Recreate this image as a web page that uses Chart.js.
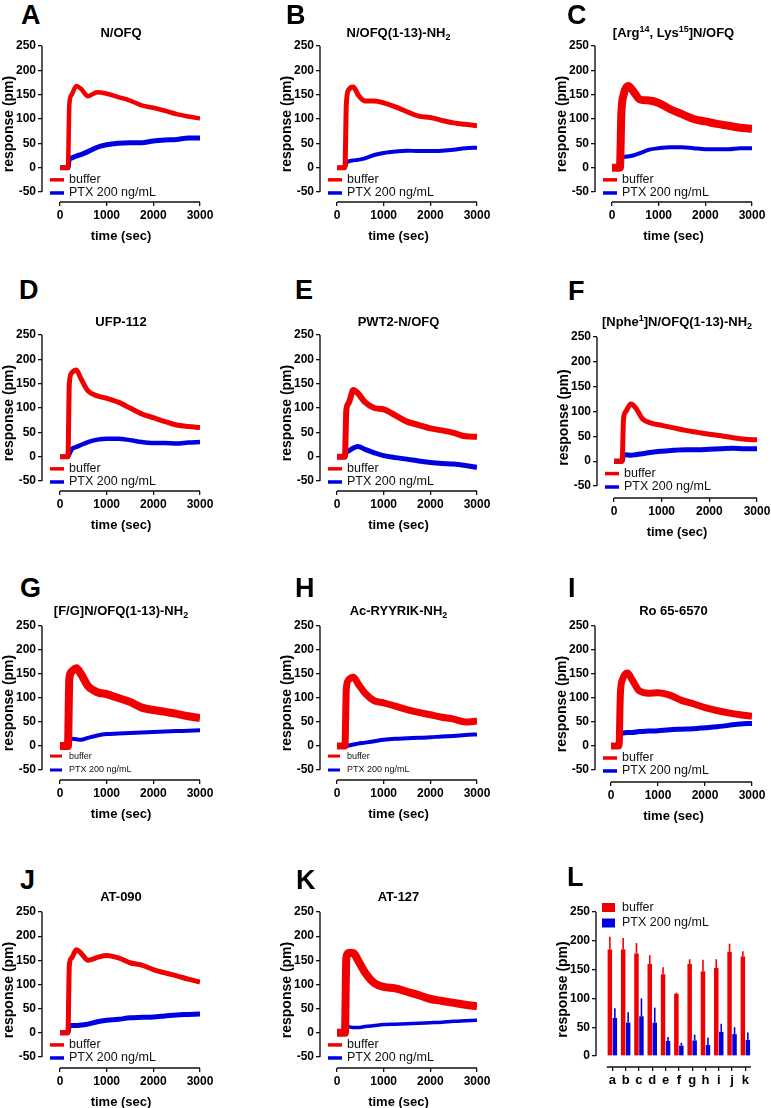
<!DOCTYPE html>
<html>
<head>
<meta charset="utf-8">
<script src="https://cdn.jsdelivr.net/npm/chart.js@4.4.0/dist/chart.umd.min.js"></script>
<style>
body { margin: 0; width: 771px; height: 1108px; overflow: hidden; background: #fff; position: relative;
       font-family: 'Liberation Sans', Arial, sans-serif; color: #000; }
.letter { position: absolute; font-size: 27px; font-weight: bold; line-height: 27px; }
.title { position: absolute; font-size: 13px; font-weight: bold; line-height: 16px; text-align: center; white-space: nowrap; }
.title sub { font-size: 9px; line-height: 0; vertical-align: -3px; }
.title sup { font-size: 9px; line-height: 0; vertical-align: 5px; }
canvas { position: absolute; }
</style>
</head>
<body>
<script>
// ---- data ----
const times = [0, 170, 200, 250, 350, 450, 600, 800, 1000, 1250, 1500, 1750, 2000, 2250, 2500, 2750, 3000];
const seriesLabels = ['buffer', 'PTX 200 ng/mL'];
const xTicks = [0, 1000, 2000, 3000];
const yTicks = [-50, 0, 50, 100, 150, 200, 250];

const bufferA = [0, 0, 130, 150, 168, 162, 147, 155, 152, 145, 138, 128, 123, 117, 110, 105, 101];
const ptxA    = [0, 0, 18, 20, 24, 27, 33, 42, 47, 50, 51, 51, 55, 57, 58, 61, 61];
const bufferB = [0, 0, 130, 160, 166, 150, 137, 137, 133, 125, 115, 106, 103, 97, 92, 89, 86];
const ptxB    = [0, 0, 10, 13, 15, 16, 19, 26, 30, 33, 35, 34, 34, 35, 37, 40, 41];
const bufferC = [0, 0, 110, 150, 168, 158, 140, 138, 133, 120, 110, 100, 95, 90, 86, 82, 80];
const ptxC    = [0, 0, 18, 22, 23, 25, 30, 37, 40, 42, 42, 40, 38, 38, 38, 40, 40];
const bufferD = [0, 0, 150, 172, 178, 160, 135, 125, 120, 112, 100, 88, 80, 72, 65, 62, 60];
const ptxD    = [0, 0, 5, 15, 20, 24, 30, 35, 37, 37, 34, 30, 28, 28, 27, 29, 30];
const bufferE = [0, 0, 95, 110, 137, 130, 112, 100, 97, 85, 72, 65, 58, 54, 49, 42, 41];
const ptxE    = [0, 0, 10, 12, 18, 21, 15, 8, 2, -2, -5, -9, -12, -14, -15, -18, -22];
const bufferF = [0, 0, 85, 100, 115, 108, 85, 76, 72, 67, 62, 58, 54, 51, 47, 44, 43];
const ptxF    = [0, 0, 12, 13, 12, 13, 15, 18, 20, 22, 23, 23, 24, 25, 26, 25, 25];
const bufferG = [0, 0, 140, 155, 162, 150, 125, 112, 108, 100, 92, 80, 75, 71, 67, 62, 58];
const ptxG    = [0, 0, 15, 15, 14, 13, 17, 22, 25, 26, 27, 28, 29, 30, 31, 32, 33];
const bufferH = [0, 0, 120, 138, 143, 130, 110, 94, 90, 83, 76, 70, 65, 60, 56, 50, 52];
const ptxH    = [0, 0, 0, 1, 3, 5, 7, 10, 13, 15, 16, 17, 18, 20, 21, 23, 24];
const bufferI = [0, 0, 110, 140, 152, 138, 115, 110, 111, 106, 95, 88, 80, 74, 69, 65, 62];
const ptxI    = [0, 0, 25, 27, 28, 28, 30, 31, 32, 34, 35, 36, 38, 40, 43, 46, 47];
const bufferJ = [0, 0, 140, 155, 172, 165, 150, 156, 160, 155, 145, 140, 131, 124, 118, 111, 105];
const ptxJ    = [0, 0, 15, 15, 15, 16, 18, 23, 26, 28, 31, 32, 33, 35, 37, 38, 39];
const bufferK = [0, 0, 155, 165, 165, 150, 125, 103, 95, 92, 85, 78, 70, 66, 62, 58, 55];
const ptxK    = [0, 0, 15, 13, 11, 11, 13, 15, 17, 18, 19, 20, 21, 22, 24, 25, 26];

// panel L (peak response, mean + SEM)
const barCategories = ['a', 'b', 'c', 'd', 'e', 'f', 'g', 'h', 'i', 'j', 'k'];
const barBuffer    = [185, 185, 178, 160, 142, 108, 160, 147, 153, 181, 173];
const barBufferErr = [22, 20, 18, 15, 12, 2, 8, 20, 15, 14, 9];
const barPtx       = [66, 58, 69, 58, 26, 18, 27, 19, 42, 38, 28];
const barPtxErr    = [17, 18, 31, 26, 7, 5, 10, 13, 14, 12, 13];
const barTicks = [0, 50, 100, 150, 200, 250];

// ---- styling ----
const RED = 'rgb(240,0,0)';
const BLUE = 'rgb(0,0,225)';
const FONT = "'Liberation Sans', Arial, sans-serif";
Chart.defaults.font.family = FONT;
Chart.defaults.color = '#000';

const PAD_TOP = 10, PAD_RIGHT = 16, Y_AXIS_W = 42, X_AXIS_H = 44;

// positions of each panel's plot box (page pixels)
const panels = [
  { key: 'A', title: 'N/OFQ', buffer: bufferA, ptx: ptxA, left: 42, x0: 60, right: 200, top: 46, ym50: 192, bottom: 202, lx: 21, ly: 5, ty: 32.5, bw: 4.5, pw: 5 },
  { key: 'B', title: 'N/OFQ(1-13)-NH<sub>2</sub>', buffer: bufferB, ptx: ptxB, left: 320, x0: 337, right: 477, top: 46, ym50: 192, bottom: 202, lx: 286, ly: 5, ty: 32.5, bw: 5, pw: 4 },
  { key: 'C', title: '[Arg<sup>14</sup>, Lys<sup>15</sup>]N/OFQ', buffer: bufferC, ptx: ptxC, left: 595, x0: 612, right: 752, top: 46, ym50: 192, bottom: 202, lx: 567, ly: 5, ty: 32.5, bw: 8, pw: 4 },
  { key: 'D', title: 'UFP-112', buffer: bufferD, ptx: ptxD, left: 42, x0: 60, right: 200, top: 335, ym50: 481, bottom: 491, lx: 19, ly: 280, ty: 322, bw: 5, pw: 4.5 },
  { key: 'E', title: 'PWT2-N/OFQ', buffer: bufferE, ptx: ptxE, left: 320, x0: 337, right: 477, top: 335, ym50: 481, bottom: 491, lx: 295, ly: 280, ty: 322, bw: 6, pw: 5 },
  { key: 'F', title: '[Nphe<sup>1</sup>]N/OFQ(1-13)-NH<sub>2</sub>', buffer: bufferF, ptx: ptxF, left: 597, x0: 614, right: 757, top: 337, ym50: 486, bottom: 498, lx: 568, ly: 281, ty: 322, bw: 5, pw: 5 },
  { key: 'G', title: '[F/G]N/OFQ(1-13)-NH<sub>2</sub>', buffer: bufferG, ptx: ptxG, left: 42, x0: 60, right: 200, top: 626, ym50: 770, bottom: 780, lx: 20, ly: 578, ty: 611, bw: 8, pw: 4, small: true },
  { key: 'H', title: 'Ac-RYYRIK-NH<sub>2</sub>', buffer: bufferH, ptx: ptxH, left: 320, x0: 337, right: 477, top: 626, ym50: 770, bottom: 780, lx: 295, ly: 578, ty: 611, bw: 7, pw: 4, small: true },
  { key: 'I', title: 'Ro 65-6570', buffer: bufferI, ptx: ptxI, left: 595, x0: 611, right: 752, top: 626, ym50: 770, bottom: 782, lx: 568, ly: 578, ty: 611, bw: 7, pw: 5 },
  { key: 'J', title: 'AT-090', buffer: bufferJ, ptx: ptxJ, left: 42, x0: 60, right: 200, top: 912, ym50: 1057, bottom: 1068, lx: 20, ly: 870, ty: 897, bw: 5, pw: 5 },
  { key: 'K', title: 'AT-127', buffer: bufferK, ptx: ptxK, left: 320, x0: 337, right: 477, top: 912, ym50: 1057, bottom: 1068, lx: 296, ly: 870, ty: 897, bw: 8, pw: 3.5 }
];

function addDiv(cls, html, left, top, width) {
  const d = document.createElement('div');
  d.className = cls;
  d.innerHTML = html;
  d.style.left = left + 'px';
  d.style.top = top + 'px';
  if (width) d.style.width = width + 'px';
  document.body.appendChild(d);
}

function makeCanvas(left, top, width, height) {
  const c = document.createElement('canvas');
  c.width = width; c.height = height;
  c.style.left = left + 'px'; c.style.top = top + 'px';
  c.style.width = width + 'px'; c.style.height = height + 'px';
  document.body.appendChild(c);
  return c;
}

// Prism-style detached axis lines
const axisLines = {
  id: 'axisLines',
  afterDraw(chart, args, opts) {
    const { ctx, chartArea } = chart;
    const x = chart.scales.x, y = chart.scales.y;
    ctx.save();
    ctx.strokeStyle = '#111';
    ctx.lineWidth = 1.4;
    ctx.beginPath();
    ctx.moveTo(chartArea.left, y.getPixelForValue(opts.yFrom));
    ctx.lineTo(chartArea.left, y.getPixelForValue(opts.yTo));
    ctx.moveTo(x.getPixelForValue(opts.xFrom), chartArea.bottom);
    ctx.lineTo(x.getPixelForValue(opts.xTo), chartArea.bottom);
    ctx.stroke();
    ctx.restore();
  }
};

// legend drawn inside the plot, bottom left
const lineLegend = {
  id: 'lineLegend',
  afterDraw(chart, args, opts) {
    const { ctx, chartArea } = chart;
    const y = chart.scales.y;
    ctx.save();
    ctx.font = opts.size + 'px ' + FONT;
    ctx.textBaseline = 'middle';
    chart.data.datasets.forEach((ds, i) => {
      const yy = y.getPixelForValue(opts.rows[i]);
      ctx.strokeStyle = ds.borderColor;
      ctx.lineWidth = opts.small ? 3 : 3.5;
      ctx.beginPath();
      ctx.moveTo(chartArea.left + 8, yy);
      ctx.lineTo(chartArea.left + (opts.small ? 20 : 22), yy);
      ctx.stroke();
      ctx.fillStyle = '#111';
      ctx.fillText(ds.label, chartArea.left + 27, yy);
    });
    ctx.restore();
  }
};

const gridOpts = { drawOnChartArea: false, drawTicks: true, tickLength: 4, color: '#111', lineWidth: 1.3 };
const tickOpts = { font: { size: 12, weight: 'bold' }, color: '#000', padding: 2, autoSkip: false, maxRotation: 0 };

function linePanel(p) {
  const plotH = p.bottom - p.top;
  const c = makeCanvas(p.left - Y_AXIS_W, p.top - PAD_TOP,
    Y_AXIS_W + (p.right - p.left) + PAD_RIGHT, PAD_TOP + plotH + X_AXIS_H);
  const xMin = -(p.x0 - p.left) / (p.right - p.x0) * 3000;
  const unit = (p.ym50 - p.top) / 300;
  const yMin = -50 - (p.bottom - p.ym50) / unit;

  new Chart(c, {
    type: 'line',
    data: {
      datasets: [
        { label: seriesLabels[0], data: times.map((t, i) => ({ x: t, y: p.buffer[i] })), borderColor: RED, borderWidth: p.bw },
        { label: seriesLabels[1], data: times.map((t, i) => ({ x: t, y: p.ptx[i] })), borderColor: BLUE, borderWidth: p.pw }
      ]
    },
    options: {
      responsive: false,
      animation: false,
      layout: { padding: { top: PAD_TOP, right: PAD_RIGHT, left: 0, bottom: 0 } },
      elements: { point: { radius: 0 }, line: { cubicInterpolationMode: 'monotone', borderJoinStyle: 'round' } },
      plugins: {
        legend: { display: false },
        tooltip: { enabled: false },
        axisLines: { xFrom: 0, xTo: 3000, yFrom: -50, yTo: 250 },
        lineLegend: p.small ? { size: 9, rows: [-21, -50], small: true } : { size: 12.5, rows: [-25, -52] }
      },
      scales: {
        x: {
          type: 'linear', min: xMin, max: 3000,
          afterBuildTicks: s => { s.ticks = xTicks.map(v => ({ value: v })); },
          afterFit: s => { s.height = X_AXIS_H; },
          grid: gridOpts, border: { display: false },
          ticks: { ...tickOpts, callback: v => String(v) },
          title: { display: true, text: 'time (sec)', font: { size: 13, weight: 'bold' }, padding: { top: 0, bottom: 2 } }
        },
        y: {
          type: 'linear', min: yMin, max: 250,
          afterBuildTicks: s => { s.ticks = yTicks.map(v => ({ value: v })); },
          afterFit: s => { s.width = Y_AXIS_W; },
          grid: gridOpts, border: { display: false }, ticks: tickOpts,
          title: { display: true, text: 'response (pm)', font: { size: 14, weight: 'bold' }, padding: { top: 1, bottom: 0 } }
        }
      }
    },
    plugins: [axisLines, lineLegend]
  });

  addDiv('letter', p.key, p.lx, p.ly - 3.5);
  addDiv('title', p.title, p.left, p.ty - 8, p.right - p.left);
}

panels.forEach(linePanel);

// ---- panel L ----
const errorBars = {
  id: 'errorBars',
  afterDatasetsDraw(chart) {
    const { ctx } = chart;
    const y = chart.scales.y;
    ctx.save();
    chart.data.datasets.forEach((ds, i) => {
      const meta = chart.getDatasetMeta(i);
      ctx.strokeStyle = ds.backgroundColor;
      ctx.lineWidth = 1.6;
      meta.data.forEach((bar, j) => {
        const top = y.getPixelForValue(ds.data[j].y + ds.errors[j]);
        ctx.beginPath();
        ctx.moveTo(bar.x, bar.y);
        ctx.lineTo(bar.x, top);
        ctx.stroke();
      });
    });
    ctx.restore();
  }
};

const boxLegend = {
  id: 'boxLegend',
  afterDraw(chart) {
    const { ctx, chartArea } = chart;
    ctx.save();
    ctx.font = '12.5px ' + FONT;
    ctx.textBaseline = 'middle';
    chart.data.datasets.forEach((ds, i) => {
      const top = chartArea.top - 9 + i * 15.5;
      ctx.fillStyle = ds.backgroundColor;
      ctx.fillRect(chartArea.left + 6, top, 13, 9);
      ctx.fillStyle = '#111';
      ctx.fillText(ds.label, chartArea.left + 26, top + 4.5);
    });
    ctx.restore();
  }
};

(function barPanel() {
  const left = 596, right = 752, top = 912, zeroY = 1056, bottom = 1067;
  const padTop = 14, padRight = 14, xAxisH = 26;
  const c = makeCanvas(left - Y_AXIS_W, top - padTop, Y_AXIS_W + (right - left) + padRight, padTop + (bottom - top) + xAxisH);
  const unit = (zeroY - top) / 250;
  const yMin = -(bottom - zeroY) / unit;

  new Chart(c, {
    type: 'bar',
    data: {
      datasets: [
        { label: seriesLabels[0], data: barBuffer.map((v, i) => ({ x: i, y: v })), errors: barBufferErr, backgroundColor: RED },
        { label: seriesLabels[1], data: barPtx.map((v, i) => ({ x: i, y: v })), errors: barPtxErr, backgroundColor: BLUE }
      ]
    },
    options: {
      responsive: false,
      animation: false,
      layout: { padding: { top: padTop, right: padRight, left: 0, bottom: 0 } },
      datasets: { bar: { categoryPercentage: 0.75, barPercentage: 0.9, borderWidth: 0 } },
      plugins: {
        legend: { display: false },
        tooltip: { enabled: false },
        axisLines: { xFrom: -0.42, xTo: 10.42, yFrom: 0, yTo: 250 }
      },
      scales: {
        x: {
          type: 'linear', min: -1.23, max: 10.5, offset: false,
          afterBuildTicks: s => { s.ticks = barCategories.map((_, i) => ({ value: i })); },
          afterFit: s => { s.height = xAxisH; },
          grid: { ...gridOpts, offset: false }, border: { display: false },
          ticks: { ...tickOpts, font: { size: 13, weight: 'bold' }, callback: v => barCategories[v] }
        },
        y: {
          type: 'linear', min: yMin, max: 250,
          afterBuildTicks: s => { s.ticks = barTicks.map(v => ({ value: v })); },
          afterFit: s => { s.width = Y_AXIS_W; },
          grid: gridOpts, border: { display: false }, ticks: tickOpts,
          title: { display: true, text: 'response (pm)', font: { size: 14, weight: 'bold' }, padding: { top: 1, bottom: 0 } }
        }
      }
    },
    plugins: [axisLines, errorBars, boxLegend]
  });

  addDiv('letter', 'L', 567, 867 - 3.5);
})();
</script>
</body>
</html>
